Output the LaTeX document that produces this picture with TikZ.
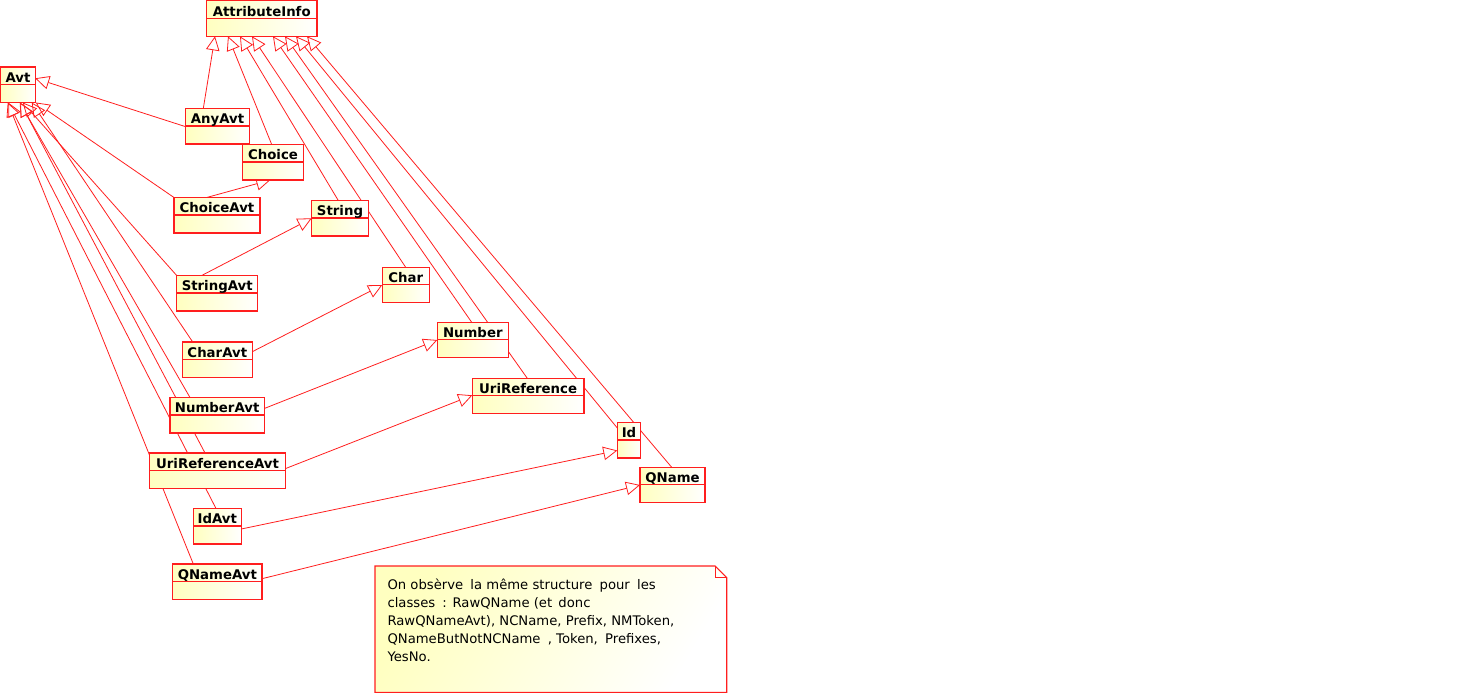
\documentclass[tikz,border=0pt]{standalone}
\usepackage{fontspec}
\setmainfont{DejaVu Sans}
\usetikzlibrary{arrows.meta,backgrounds}

\definecolor{umlred}{RGB}{255,30,30}
\definecolor{umlyellow}{RGB}{255,255,192}

\tikzset{
  classbox/.style={rectangle, draw=umlred, line width=1.1pt, inner sep=0pt, outer sep=0pt,
    minimum height=35.5pt, left color=umlyellow, right color=white, anchor=north west},
  classname/.style={anchor=base, inner sep=0pt, font=\bfseries\fontsize{13.3}{16}\selectfont},
  inherits/.style={draw=umlred, line width=0.8pt, -{Triangle[open, length=14pt, width=13.5pt, line width=0.8pt]}},
  notetext/.style={anchor=base west, inner sep=0pt, font=\fontsize{13.2}{16}\selectfont},
}

% class box: name, left x, top y, width, title
\newcommand\umlclass[5]{%
  \node[classbox, minimum width=#4pt] (#1) at (#2,#3) {};
  \draw[umlred, line width=1.1pt] ([yshift=-17.5pt]#1.north west) -- ([yshift=-17.5pt]#1.north east);
  \node[classname] (#1-title) at ([yshift=-15.3pt]#1.north) {#5};
}

\begin{document}
\begin{tikzpicture}[x=1pt, y=-1pt]
\useasboundingbox (0,0) rectangle (1470,698);

% classes
\umlclass{AttributeInfo}{206.5}{0.8}{110.5}{AttributeInfo}
\umlclass{Avt}{0.7}{67}{34.5}{Avt}
\umlclass{AnyAvt}{185.7}{108.5}{63.6}{AnyAvt}
\umlclass{Choice}{242.3}{144.5}{61.4}{Choice}
\umlclass{ChoiceAvt}{174}{197.5}{86}{ChoiceAvt}
\umlclass{String}{311.7}{200.5}{56.6}{String}
\umlclass{StringAvt}{176.7}{275.5}{81}{StringAvt}
\umlclass{Char}{382.3}{267.3}{47}{Char}
\umlclass{CharAvt}{182.3}{342}{70}{CharAvt}
\umlclass{Number}{437.3}{322.3}{71}{Number}
\umlclass{NumberAvt}{170}{397.5}{94.3}{NumberAvt}
\umlclass{UriReference}{472.3}{378.3}{111.7}{UriReference}
\umlclass{UriReferenceAvt}{149.3}{453}{136.4}{UriReferenceAvt}
\umlclass{Id}{617.3}{422.5}{23.4}{Id}
\umlclass{QName}{640}{467.3}{65}{QName}
\umlclass{IdAvt}{193.3}{508.5}{48}{IdAvt}
\umlclass{QNameAvt}{172.7}{564}{89.3}{QNameAvt}

% note with folded corner
\shade[left color=umlyellow, right color=white, shading angle=60]
  (375,566) -- (715.2,566) -- (726.7,577.5) -- (726.7,692.3) -- (375,692.3) -- cycle;
\draw[umlred, line width=1.1pt]
  (375,566) -- (715.2,566) -- (726.7,577.5) -- (726.7,692.3) -- (375,692.3) -- cycle;
\draw[umlred, line width=0.8pt] (715.2,566) -- (715.2,577.5) -- (726.7,577.5);
\node[notetext] (note1) at (387.3,589.5) {On obsèrve\hspace{3pt} la même structure\hspace{3pt} pour\hspace{3pt} les};
\node[notetext] (note2) at (387.3,607.4) {classes\hspace{3pt} : RawQName (et\hspace{2pt} donc};
\node[notetext] (note3) at (387.3,625.3) {RawQNameAvt), NCName, Prefix, NMToken,};
\node[notetext] (note4) at (387.3,643.2) {QNameButNotNCName\hspace{3pt} , Token,\hspace{3pt} Prefixes,};
\node[notetext] (note5) at (387.3,661.1) {YesNo.};

% generalisations, drawn behind the class boxes
\begin{scope}[on background layer]
  % towards AttributeInfo
  \draw[inherits] ([xshift=17.6pt]AnyAvt.north west) -- ([xshift=8.5pt]AttributeInfo.south west);
  \draw[inherits] ([xshift=29.4pt]Choice.north west) -- ([xshift=21.5pt]AttributeInfo.south west);
  \draw[inherits] ([xshift=26.6pt]String.north west) -- ([xshift=33.5pt]AttributeInfo.south west);
  \draw[inherits] ([xshift=23.4pt]Char.north west) -- ([xshift=45.5pt]AttributeInfo.south west);
  \draw[inherits] ([xshift=34.4pt]Number.north west) -- ([xshift=66.5pt]AttributeInfo.south west);
  \draw[inherits] ([xshift=55pt]UriReference.north west) -- ([xshift=78.5pt]AttributeInfo.south west);
  \draw[inherits] ([yshift=-5.5pt]Id.north west) -- ([xshift=89.5pt]AttributeInfo.south west);
  \draw[inherits] ([xshift=31.7pt]QName.north west) -- ([xshift=100.5pt]AttributeInfo.south west);
  % towards Avt
  \draw[inherits] ([yshift=-18.2pt]AnyAvt.north west) -- ([yshift=-11.3pt]Avt.north east);
  \draw[inherits] (ChoiceAvt.north west) -- ([xshift=0.5pt]Avt.south east);
  \draw[inherits] (StringAvt.north west) -- ([xshift=22pt]Avt.south west);
  \draw[inherits] ([xshift=10.4pt]CharAvt.north west) -- ([xshift=31pt]Avt.south west);
  \draw[inherits] ([xshift=20pt]NumberAvt.north west) -- ([xshift=19pt]Avt.south west);
  \draw[inherits] ([xshift=55.7pt]UriReferenceAvt.north west) -- ([xshift=19.5pt]Avt.south west);
  \draw[inherits] ([xshift=22.7pt]IdAvt.north west) -- ([xshift=7.5pt]Avt.south west);
  \draw[inherits] ([xshift=20.6pt]QNameAvt.north west) -- ([xshift=7pt]Avt.south west);
  % each Avt class towards its value type
  \draw[inherits] ([xshift=32.7pt]ChoiceAvt.north west) -- ([xshift=28pt]Choice.south west);
  \draw[inherits] ([xshift=25pt]StringAvt.north west) -- ([yshift=-17.8pt]String.north west);
  \draw[inherits] ([yshift=-9.7pt]CharAvt.north east) -- ([yshift=-17.7pt]Char.north west);
  \draw[inherits] ([yshift=-11pt]NumberAvt.north east) -- ([yshift=-17.7pt]Number.north west);
  \draw[inherits] ([yshift=-15.5pt]UriReferenceAvt.north east) -- ([yshift=-17pt]UriReference.north west);
  \draw[inherits] ([yshift=-20.5pt]IdAvt.north east) -- ([yshift=-28pt]Id.north west);
  \draw[inherits] ([yshift=-14.7pt]QNameAvt.north east) -- ([yshift=-17.7pt]QName.north west);
\end{scope}
\end{tikzpicture}
\end{document}
